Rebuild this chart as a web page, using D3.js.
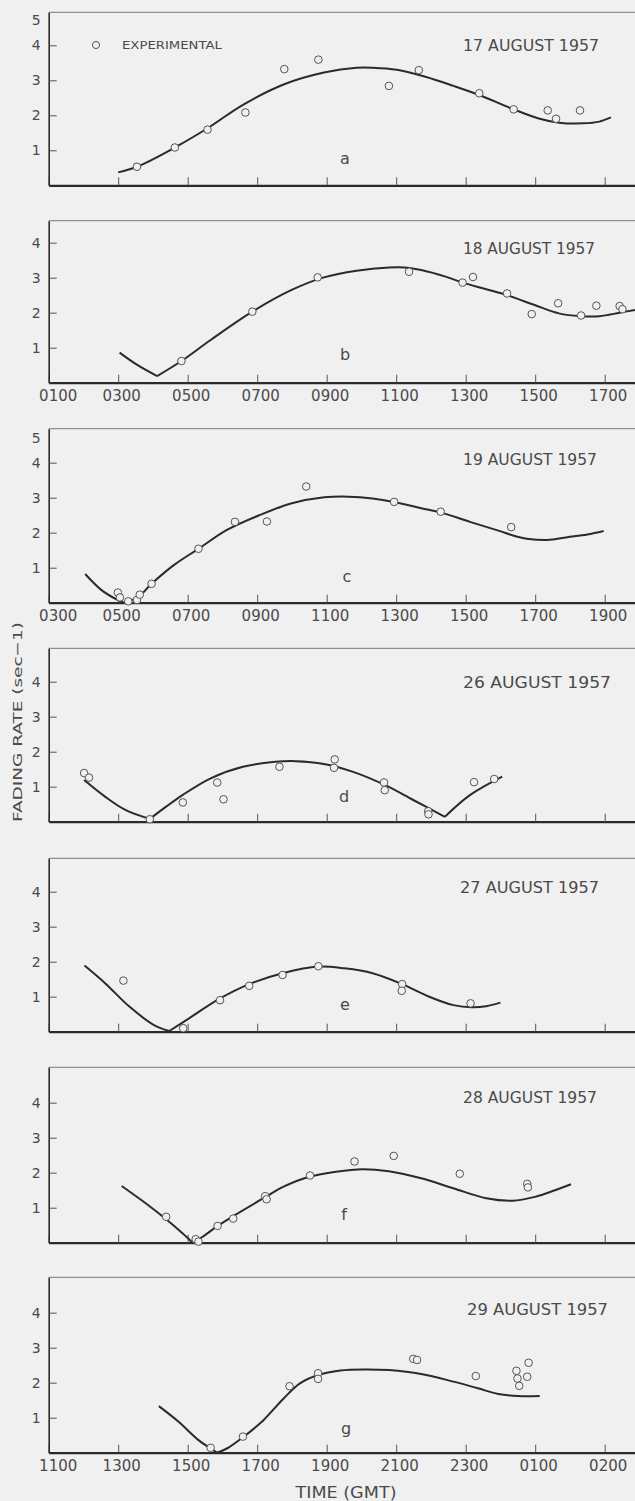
<!DOCTYPE html>
<html>
<head>
<meta charset="utf-8">
<style>
  body { margin: 0; background: #f0f0f0; }
  svg { display: block; font-family: "DejaVu Sans", sans-serif; }
</style>
</head>
<body>
<div class="container"></div>
<script src="https://d3js.org/d3.v7.min.js"></script>
<script>
// ---- data (hours GMT, fading rate sec^-1) ----
var dates = ['17 AUGUST 1957', '18 AUGUST 1957', '19 AUGUST 1957', '26 AUGUST 1957',
             '27 AUGUST 1957', '28 AUGUST 1957', '29 AUGUST 1957'];
var letters = ['a', 'b', 'c', 'd', 'e', 'f', 'g'];
var startHours = [1, 1, 3, 3, 3, 3, 11];

var xLabelsB = ['0100', '0300', '0500', '0700', '0900', '1100', '1300', '1500', '1700'];
var xLabelsC = ['0300', '0500', '0700', '0900', '1100', '1300', '1500', '1700', '1900'];
var xLabelsG = ['1100', '1300', '1500', '1700', '1900', '2100', '2300', '0100', '0200'];
var yTicksTall = [1, 2, 3, 4, 5];
var yTicksShort = [1, 2, 3, 4];

var pointsA = [[3.54,0.53],[4.63,1.08],[5.57,1.59],[6.66,2.08],[7.78,3.32],[8.76,3.59],[10.79,2.84],
               [11.65,3.29],[13.39,2.63],[14.38,2.17],[15.36,2.14],[15.60,1.90],[16.29,2.14]];
var curveA = [[[3.0,0.37],[3.54,0.53],[4.63,1.08],[5.57,1.63],[6.59,2.30],[7.76,2.88],[8.92,3.22],
               [9.86,3.36],[10.32,3.36],[11.02,3.30],[11.84,3.10],[12.65,2.84],[13.39,2.58],[14.38,2.17],
               [15.10,1.91],[15.69,1.79],[16.38,1.77],[16.85,1.82],[17.18,1.94]]];

var pointsB = [[4.82,0.62],[6.86,2.03],[8.74,3.01],[11.37,3.17],[12.91,2.86],[13.21,3.02],[14.19,2.55],
               [14.90,1.96],[15.66,2.27],[16.32,1.92],[16.76,2.20],[17.43,2.19],[17.51,2.10]];
var curveB = [[[3.04,0.86],[3.56,0.50],[4.12,0.19]],
              [[4.12,0.19],[4.82,0.62],[5.66,1.22],[6.86,2.03],[7.99,2.65],[8.92,3.01],[9.86,3.20],
               [10.79,3.29],[11.25,3.29],[11.72,3.22],[12.42,3.03],[12.91,2.86],[13.59,2.67],[14.19,2.50],
               [14.98,2.22],[15.68,1.98],[16.32,1.90],[16.85,1.90],[17.43,2.0],[17.87,2.08]]];

var pointsC = [[4.99,0.29],[5.05,0.15],[5.29,0.04],[5.54,0.08],[5.62,0.23],[5.96,0.54],[7.31,1.54],
               [8.36,2.31],[9.28,2.32],[10.41,3.32],[12.94,2.88],[14.28,2.60],[16.31,2.16]];
var curveC = [[[4.05,0.82],[4.52,0.36],[4.98,0.08],[5.16,0.0]],
              [[5.16,0.0],[5.56,0.15],[5.96,0.54],[6.61,1.08],[7.31,1.54],[8.13,2.08],[9.06,2.50],
               [10.0,2.84],[10.93,3.01],[11.63,3.03],[12.32,2.98],[12.94,2.88],[13.72,2.70],[14.28,2.58],
               [15.12,2.31],[15.94,2.06],[16.46,1.89],[16.75,1.83],[17.34,1.79],[17.92,1.87],[18.50,1.95],
               [18.97,2.05]]];

var pointsD = [[4.02,1.39],[4.16,1.26],[5.91,0.07],[6.86,0.55],[7.85,1.12],[8.03,0.64],[9.64,1.57],
               [11.23,1.78],[11.21,1.54],[12.65,1.12],[12.67,0.90],[13.92,0.30],[13.93,0.21],[15.24,1.13],
               [15.82,1.22]];
var curveD = [[[4.02,1.19],[4.63,0.71],[5.22,0.33],[5.91,0.08]],
              [[5.91,0.08],[6.38,0.43],[6.85,0.76],[7.66,1.24],[8.59,1.57],[9.52,1.71],[10.11,1.73],
               [10.92,1.65],[11.74,1.43],[12.67,1.05],[13.49,0.62],[14.40,0.14]],
              [[14.40,0.14],[15.12,0.76],[16.05,1.29]]];

var pointsE = [[5.15,1.46],[6.87,0.10],[7.93,0.90],[8.77,1.31],[9.73,1.62],[10.76,1.87],[13.17,1.36],
               [13.16,1.17],[15.14,0.81]];
var curveE = [[[4.03,1.89],[4.63,1.38],[5.33,0.71],[6.03,0.19],[6.47,0.02]],
              [[6.47,0.02],[6.96,0.33],[7.93,0.95],[8.77,1.36],[9.73,1.67],[10.76,1.86],[11.51,1.81],
               [12.32,1.67],[13.17,1.36],[13.95,1.0],[14.65,0.76],[15.17,0.70],[15.59,0.73],[16.0,0.83]]];

var pointsF = [[6.38,0.74],[7.23,0.10],[7.31,0.03],[7.86,0.48],[8.31,0.69],[9.23,1.33],[9.27,1.24],
               [10.52,1.92],[11.80,2.32],[12.93,2.48],[14.83,1.97],[16.77,1.68],[16.79,1.58]];
var curveF = [[[5.10,1.62],[5.80,1.12],[6.38,0.67],[6.85,0.27],[7.14,0.0]],
              [[7.14,0.0],[7.43,0.17],[7.86,0.48],[8.31,0.76],[9.23,1.30],[9.76,1.60],[10.52,1.89],
               [11.27,2.03],[12.03,2.10],[12.79,2.04],[13.72,1.84],[14.66,1.55],[15.59,1.27],[16.35,1.20],
               [16.99,1.31],[17.57,1.50],[18.03,1.67]]];

var pointsG = [[15.66,0.14],[16.59,0.46],[17.93,1.90],[18.75,2.27],[18.75,2.11],[21.49,2.68],[21.60,2.65],
               [23.29,2.19],[24.46,2.34],[24.49,2.12],[24.54,1.91],[24.77,2.17],[24.81,2.57]];
var curveG = [[[14.17,1.33],[14.73,0.89],[15.31,0.36],[15.66,0.12],[15.84,0.0]],
              [[15.84,0.0],[16.13,0.12],[16.59,0.44],[17.18,0.93],[17.76,1.55],[18.23,1.98],[18.75,2.22],
               [19.39,2.35],[20.09,2.38],[20.79,2.36],[21.72,2.25],[22.65,2.03],[23.35,1.84],[23.94,1.68],
               [24.51,1.62],[25.13,1.62]]];

var allPoints = [pointsA, pointsB, pointsC, pointsD, pointsE, pointsF, pointsG];
var allCurves = [curveA, curveB, curveC, curveD, curveE, curveF, curveG];
var allXLabels = [[], xLabelsB, xLabelsC, [], [], [], xLabelsG];
var allYTicks = [yTicksTall, yTicksShort, yTicksTall, yTicksShort, yTicksShort, yTicksShort, yTicksShort];

// ---- layout ----
var W = 635, H = 1501;
var plotLeft = 48.7, hourWidth = 34.75, unitHeight = 35;
var frames = [[12.3, 185.3], [220.7, 382.7], [428.7, 602.7], [648.3, 821.7],
              [858.3, 1031.7], [1067.3, 1242.7], [1277.3, 1452.7]];
var dateBoxes = [[463, 599, 45], [463, 595, 248.3], [463, 597, 459.3], [463, 611, 682.3],
                 [460, 599, 887.7], [463, 597, 1097.3], [467, 608, 1309.3]];
var letterPos = [[345, 158], [345, 354], [347, 576], [344, 796], [345, 1004], [344, 1214], [346, 1428]];
var ink = '#2a2a2a', textInk = '#4a4a4a', bg = '#f0f0f0';

var svg = d3.select('.container').append('svg')
    .attr('width', W).attr('height', H);
svg.append('rect').attr('width', W).attr('height', H).attr('fill', bg);

frames.forEach(function(fr, i) {
  var top = fr[0], bottom = fr[1], h0 = startHours[i];
  var x = d3.scaleLinear().domain([h0, h0 + (W - plotLeft) / hourWidth]).range([plotLeft, W]);
  var y = d3.scaleLinear().domain([0, (bottom - top) / unitHeight]).range([bottom, top]);
  var g = svg.append('g');
  var labels = allXLabels[i];

  // top frame line
  g.append('line')
      .attr('x1', x.range()[0]).attr('x2', W)
      .attr('y1', top).attr('y2', top)
      .attr('stroke', '#777').attr('stroke-width', 1);

  // bottom axis
  var xAxis = d3.axisBottom(x)
      .tickValues(d3.range(h0, h0 + 17, 2))
      .tickSize(-8).tickSizeOuter(0).tickPadding(7.5)
      .tickFormat(function(d, j) { return labels[j] || ''; });
  var xa = g.append('g').attr('transform', 'translate(0,' + bottom + ')').call(xAxis);
  xa.select('.domain').attr('stroke', ink).attr('stroke-width', 2.2);
  xa.selectAll('.tick line').attr('stroke', '#555').attr('stroke-width', 1);
  xa.selectAll('.tick text')
      .attr('fill', textInk).attr('font-size', 15).attr('font-family', '"DejaVu Sans", sans-serif')
      .attr('dx', function(d, j) { return j === 0 ? 9 : 3; });

  // left axis
  var yAxis = d3.axisLeft(y).tickValues(allYTicks[i]).tickFormat(d3.format('d'))
      .tickSize(-8).tickSizeOuter(0).tickPadding(8);
  var ya = g.append('g').attr('transform', 'translate(' + plotLeft + ',0)').call(yAxis);
  ya.select('.domain').attr('stroke', ink).attr('stroke-width', 1.6);
  ya.selectAll('.tick line').attr('stroke', '#555').attr('stroke-width', 1)
      .attr('opacity', function(d) { return d === 5 ? 0 : 1; });
  ya.selectAll('.tick text')
      .attr('fill', textInk).attr('font-size', 14).attr('font-family', '"DejaVu Sans", sans-serif')
      .attr('dy', function(d) { return d === 5 ? '1.05em' : '0.32em'; });

  // fitted curves
  var line = d3.line()
      .x(function(d) { return x(d[0]); })
      .y(function(d) { return y(d[1]); })
      .curve(d3.curveCatmullRom.alpha(0.5));
  g.selectAll('path.fit').data(allCurves[i]).enter().append('path')
      .attr('class', 'fit')
      .attr('d', line)
      .attr('fill', 'none').attr('stroke', ink).attr('stroke-width', 2)
      .attr('stroke-linejoin', 'round');

  // experimental points
  g.selectAll('circle.exp').data(allPoints[i]).enter().append('circle')
      .attr('class', 'exp')
      .attr('cx', function(d) { return x(d[0]); })
      .attr('cy', function(d) { return y(d[1]); })
      .attr('r', 3.8)
      .attr('fill', bg).attr('stroke', '#555').attr('stroke-width', 1);

  // date label
  var db = dateBoxes[i];
  g.append('text')
      .attr('x', db[0]).attr('y', db[2]).attr('dy', '0.36em')
      .attr('textLength', db[1] - db[0]).attr('lengthAdjust', 'spacingAndGlyphs')
      .attr('font-size', 15.5).attr('fill', textInk)
      .text(dates[i]);

  // panel letter
  g.append('text')
      .attr('x', letterPos[i][0]).attr('y', letterPos[i][1]).attr('dy', '0.35em')
      .attr('text-anchor', 'middle').attr('font-size', 16).attr('fill', textInk)
      .text(letters[i]);

  if (i === 0) {
    g.append('circle').attr('cx', 96).attr('cy', 45).attr('r', 3.6)
        .attr('fill', bg).attr('stroke', '#555').attr('stroke-width', 1);
    g.append('text').attr('x', 122).attr('y', 45).attr('dy', '0.36em')
        .attr('textLength', 100).attr('lengthAdjust', 'spacingAndGlyphs')
        .attr('font-size', 10.5).attr('fill', textInk)
        .text('EXPERIMENTAL');
  }
});

// axis titles
svg.append('text')
    .attr('transform', 'translate(17,722) rotate(-90)')
    .attr('text-anchor', 'middle').attr('dy', '0.35em')
    .attr('textLength', 200).attr('lengthAdjust', 'spacingAndGlyphs')
    .attr('font-size', 13).attr('fill', textInk)
    .text('FADING RATE (sec\u22121)');

svg.append('text')
    .attr('x', 346).attr('y', 1493).attr('dy', '0.36em')
    .attr('text-anchor', 'middle')
    .attr('textLength', 101).attr('lengthAdjust', 'spacingAndGlyphs')
    .attr('font-size', 15).attr('fill', textInk)
    .text('TIME (GMT)');
</script>
</body>
</html>
